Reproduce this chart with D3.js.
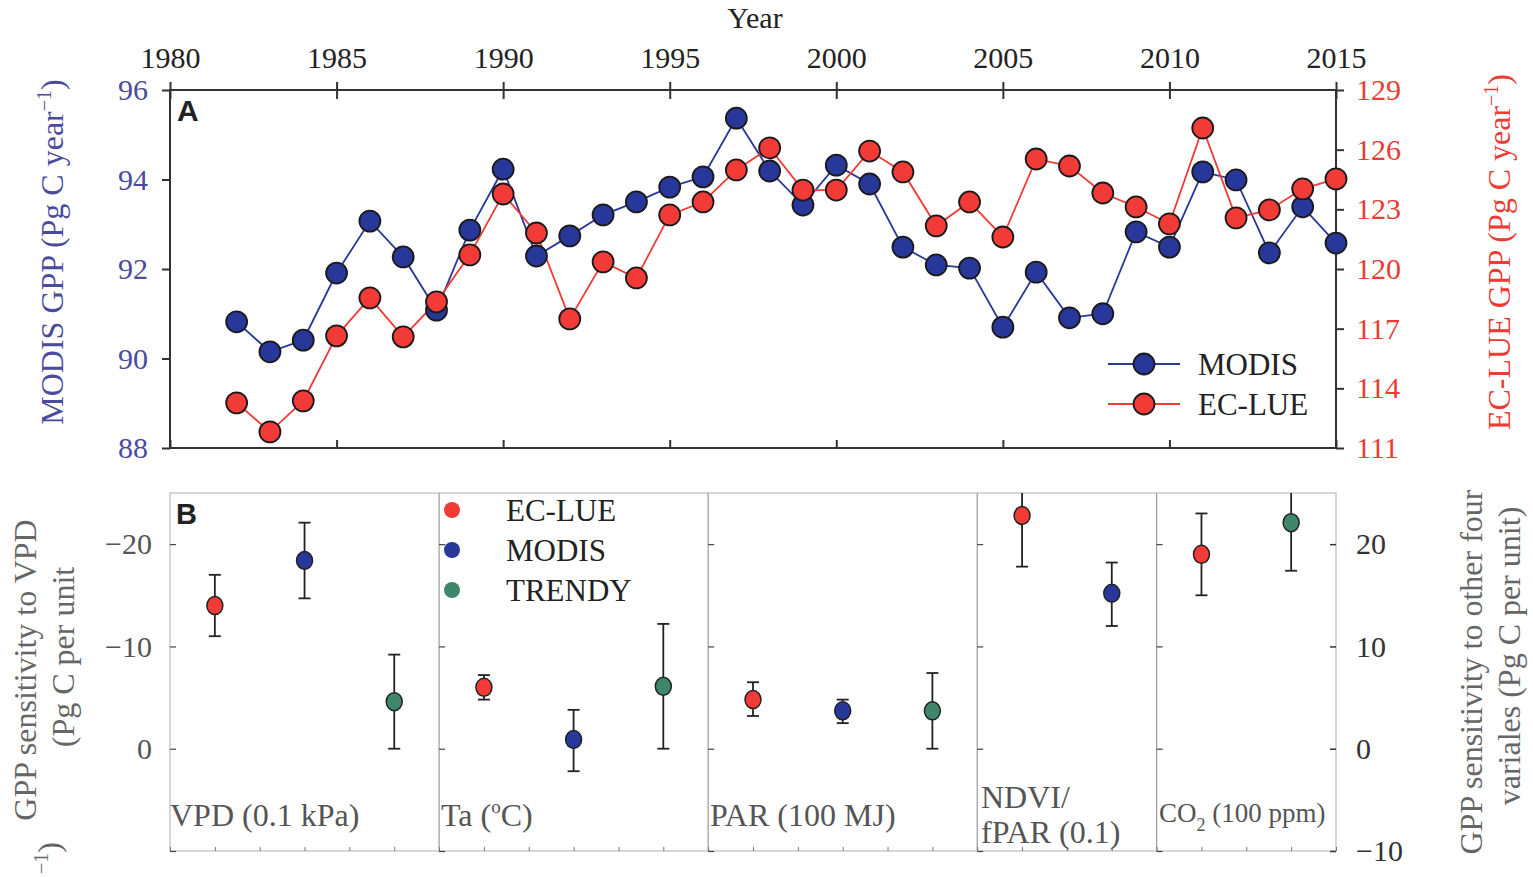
<!DOCTYPE html>
<html>
<head>
<meta charset="utf-8">
<script src="https://cdn.jsdelivr.net/npm/d3@7"></script>
<style>
  body { margin: 0; background: #fff; }
  text { font-family: "Liberation Serif", "DejaVu Serif", serif; }
  text.panel { font-family: "Liberation Sans", Arial, sans-serif; font-weight: bold; }
</style>
</head>
<body>
<div id="chart"></div>
<script>

// ---- panel A data ----
let years = d3.range(1982, 2016);
let modisGpp = [90.82, 90.15, 90.41, 91.91, 93.07, 92.27, 91.08, 92.87, 94.23, 92.29,
	92.74, 93.21, 93.50, 93.83, 94.06, 95.37, 94.19, 93.43, 94.32, 93.90,
	92.49, 92.09, 92.02, 90.70, 91.93, 90.91, 91.00, 92.83, 92.49, 94.17,
	93.99, 92.36, 93.39, 92.58];
let eclueGpp = [113.27, 111.81, 113.37, 116.64, 118.55, 116.59, 118.35, 120.71, 123.77, 121.81,
	117.49, 120.36, 119.55, 122.72, 123.37, 124.98, 126.09, 123.97, 123.97, 125.93,
	124.88, 122.17, 123.37, 121.61, 125.53, 125.18, 123.82, 123.12, 122.27, 127.09,
	122.57, 122.97, 124.03, 124.53];
let yearTicks = [1980, 1985, 1990, 1995, 2000, 2005, 2010, 2015];
let leftTicksA = [88, 90, 92, 94, 96];
let rightTicksA = [111, 114, 117, 120, 123, 126, 129];

// ---- panel B data ----
let groups = ["VPD", "Ta", "PAR", "NDVI", "CO2"];
// slot = position on panel B x axis (0..26); VPD is read on the left axis, the rest on the right one
let sensModel = ["EC-LUE", "MODIS", "TRENDY", "EC-LUE", "MODIS", "TRENDY", "EC-LUE", "MODIS", "TRENDY", "EC-LUE", "MODIS", "EC-LUE", "TRENDY"];
let sensGroup = ["VPD", "VPD", "VPD", "Ta", "Ta", "Ta", "PAR", "PAR", "PAR", "NDVI", "NDVI", "CO2", "CO2"];
let sensSlot = [1, 3, 5, 7, 9, 11, 13, 15, 17, 19, 21, 23, 25];
let sensValue = [-14.0, -18.4, -4.6, 6.0, 0.9, 6.1, 4.8, 3.7, 3.7, 22.8, 15.2, 19.0, 22.1];
let sensLow = [-11.0, -14.7, 0.0, 4.8, -2.2, 0.0, 3.2, 2.5, 0.0, 17.8, 12.0, 15.0, 17.4];
let sensHigh = [-17.0, -22.1, -9.2, 7.2, 3.8, 12.2, 6.5, 4.8, 7.4, 27.8, 18.2, 23.0, 26.8];
let dividers = [6, 12, 18, 22];
let leftTicksB = [-20, -10, 0];
let rightTicksB = [-10, 0, 10, 20];

let colors = { "MODIS": "#27379a", "EC-LUE": "#f23a36", "TRENDY": "#3f876b" };

let width = 1533, height = 877;
let svg = d3.select("#chart").append("svg")
	.attr("width", width)
	.attr("height", height);

let left = 170, right = 1336;
let tickFont = 30, labelFont = 32;

// ================= Panel A =================
let topA = 90, bottomA = 448;
let xYear = d3.scaleLinear().domain([1980, 2015]).range([left, right]);
let yModis = d3.scaleLinear().domain([88, 96]).range([bottomA, topA]);
let yEclue = d3.scaleLinear().domain([111, 129]).range([bottomA, topA]);

let dark = "#333";

// frame
svg.append("rect")
	.attr("x", left).attr("y", topA)
	.attr("width", right - left).attr("height", bottomA - topA)
	.attr("fill", "none").attr("stroke", dark).attr("stroke-width", 2);

// top axis
let topAxis = svg.append("g")
	.attr("transform", `translate(0, ${topA})`)
	.call(d3.axisTop(xYear).tickValues(yearTicks).tickFormat(d3.format("d")).tickSize(8).tickPadding(14));
topAxis.select(".domain").remove();
topAxis.selectAll("line").attr("stroke", dark).attr("stroke-width", 2).attr("y2", -8).attr("y1", 9);
topAxis.selectAll("text").attr("font-size", tickFont).attr("fill", "#222").attr("font-family", null);

// bottom inner ticks
let botAxis = svg.append("g")
	.attr("transform", `translate(0, ${bottomA})`)
	.call(d3.axisBottom(xYear).tickValues(yearTicks).tickSize(-8).tickFormat(""));
botAxis.select(".domain").remove();
botAxis.selectAll("line").attr("stroke", dark).attr("stroke-width", 2);

svg.append("text")
	.attr("x", (left + right) / 2 + 2).attr("y", 28)
	.attr("text-anchor", "middle")
	.attr("font-size", 30).attr("fill", "#222")
	.text("Year");

// left axis
let lAxis = svg.append("g")
	.attr("transform", `translate(${left}, 0)`)
	.call(d3.axisLeft(yModis).tickValues(leftTicksA).tickSize(8).tickPadding(14));
lAxis.select(".domain").remove();
lAxis.selectAll("line").attr("stroke", dark).attr("stroke-width", 2);
lAxis.selectAll("text").attr("font-size", tickFont).attr("fill", "#4b4b9e").attr("font-family", null);

// right axis
let rAxis = svg.append("g")
	.attr("transform", `translate(${right}, 0)`)
	.call(d3.axisRight(yEclue).tickValues(rightTicksA).tickSize(8).tickPadding(12));
rAxis.select(".domain").remove();
rAxis.selectAll("line").attr("stroke", dark).attr("stroke-width", 2);
rAxis.selectAll("text").attr("font-size", tickFont).attr("fill", "#ec3b33").attr("font-family", null);

// axis titles (both read bottom to top)
let lt = svg.append("text")
	.attr("transform", `translate(63, 252) rotate(-90)`)
	.attr("text-anchor", "middle")
	.attr("font-size", labelFont).attr("fill", "#4b4b9e");
lt.append("tspan").text("MODIS GPP (Pg C year");
lt.append("tspan").attr("font-size", 20).attr("dy", -12).text("\u22121");
lt.append("tspan").attr("dy", 12).text(")");

let rt = svg.append("text")
	.attr("transform", `translate(1510, 252) rotate(-90)`)
	.attr("text-anchor", "middle")
	.attr("font-size", labelFont).attr("fill", "#ec3b33");
rt.append("tspan").text("EC-LUE GPP (Pg C year");
rt.append("tspan").attr("font-size", 20).attr("dy", -12).text("\u22121");
rt.append("tspan").attr("dy", 12).text(")");

// lines + markers
let modisPts = years.map((y, i) => [y, modisGpp[i]]);
let ecluePts = years.map((y, i) => [y, eclueGpp[i]]);

svg.append("path")
	.datum(modisPts)
	.attr("d", d3.line().x(d => xYear(d[0])).y(d => yModis(d[1])))
	.attr("fill", "none").attr("stroke", colors["MODIS"]).attr("stroke-width", 1.8);
svg.append("path")
	.datum(ecluePts)
	.attr("d", d3.line().x(d => xYear(d[0])).y(d => yEclue(d[1])))
	.attr("fill", "none").attr("stroke", colors["EC-LUE"]).attr("stroke-width", 1.8);

svg.append("g").selectAll("circle").data(modisPts).join("circle")
	.attr("cx", d => xYear(d[0])).attr("cy", d => yModis(d[1])).attr("r", 10.5)
	.attr("fill", colors["MODIS"]).attr("stroke", "#1a1a1a").attr("stroke-width", 1.8);
svg.append("g").selectAll("circle").data(ecluePts).join("circle")
	.attr("cx", d => xYear(d[0])).attr("cy", d => yEclue(d[1])).attr("r", 10.5)
	.attr("fill", colors["EC-LUE"]).attr("stroke", "#1a1a1a").attr("stroke-width", 1.8);

svg.append("text")
	.attr("class", "panel")
	.attr("x", 177).attr("y", 121)
	.attr("font-size", 30).attr("fill", "#222")
	.text("A");

// legend A
[["MODIS", 364], ["EC-LUE", 404]].forEach(([name, ly]) => {
	svg.append("line")
		.attr("x1", 1108).attr("x2", 1180).attr("y1", ly).attr("y2", ly)
		.attr("stroke", colors[name]).attr("stroke-width", 1.8);
	svg.append("circle")
		.attr("cx", 1144).attr("cy", ly).attr("r", 10.5)
		.attr("fill", colors[name]).attr("stroke", "#1a1a1a").attr("stroke-width", 1.8);
	svg.append("text")
		.attr("x", 1198).attr("y", ly + 11)
		.attr("font-size", 31).attr("fill", "#222")
		.text(name);
});

// ================= Panel B =================
let topB = 493, bottomB = 851;
let xSlot = d3.scaleLinear().domain([0, 26]).range([left, right]);
let yLeftB = d3.scaleLinear().domain([-25, 10]).range([topB, bottomB]);
let yRightB = d3.scaleLinear().domain([-10, 25]).range([bottomB, topB]);
let gray = "#bdbdbd", tickCol = "#555";

svg.append("defs").append("clipPath").attr("id", "clipB")
	.append("rect").attr("x", left).attr("y", topB).attr("width", right - left).attr("height", bottomB - topB);

svg.append("rect")
	.attr("x", left).attr("y", topB)
	.attr("width", right - left).attr("height", bottomB - topB)
	.attr("fill", "none").attr("stroke", gray).attr("stroke-width", 1.2);

svg.append("g").selectAll("line").data(dividers).join("line")
	.attr("x1", d => xSlot(d)).attr("x2", d => xSlot(d))
	.attr("y1", topB).attr("y2", bottomB)
	.attr("stroke", "#9a9a9a").attr("stroke-width", 1.2);

// small bottom ticks at each slot
let bAxis = svg.append("g")
	.attr("transform", `translate(0, ${bottomB})`)
	.call(d3.axisBottom(xSlot).tickValues(d3.range(0, 27)).tickSize(-4).tickFormat(""));
bAxis.select(".domain").remove();
bAxis.selectAll("line").attr("stroke", "#777").attr("stroke-width", 1);

// inner left ticks in each sub panel
[0].concat(dividers).forEach(s => {
	let g = svg.append("g")
		.attr("transform", `translate(${xSlot(s)}, 0)`)
		.call(d3.axisRight(yRightB).tickValues(rightTicksB).tickSize(6).tickFormat(""));
	g.select(".domain").remove();
	g.selectAll("line").attr("stroke", "#444").attr("stroke-width", 1.2);
});

// left axis B
let lbAxis = svg.append("g")
	.attr("transform", `translate(${left}, 0)`)
	.call(d3.axisLeft(yLeftB).tickValues(leftTicksB).tickSize(0).tickPadding(18)
		.tickFormat(d => d < 0 ? "\u2212" + Math.abs(d) : d));
lbAxis.select(".domain").remove();
lbAxis.selectAll("text").attr("font-size", tickFont).attr("fill", tickCol).attr("font-family", null);

// right axis B
let rbAxis = svg.append("g")
	.attr("transform", `translate(${right}, 0)`)
	.call(d3.axisRight(yRightB).tickValues(rightTicksB).tickSize(-6).tickPadding(20)
		.tickFormat(d => d < 0 ? "\u2212" + Math.abs(d) : d));
rbAxis.select(".domain").remove();
rbAxis.selectAll("line").attr("stroke", "#333").attr("stroke-width", 1.5);
rbAxis.selectAll("text").attr("font-size", tickFont).attr("fill", "#333").attr("font-family", null);

// axis titles B
svg.append("text")
	.attr("transform", `translate(36, 670) rotate(-90)`)
	.attr("text-anchor", "middle")
	.attr("font-size", labelFont).attr("fill", "#666")
	.text("GPP sensitivity to VPD");
svg.append("text")
	.attr("transform", `translate(74, 657) rotate(-90)`)
	.attr("text-anchor", "middle")
	.attr("font-size", labelFont).attr("fill", "#666")
	.text("(Pg C per unit");
let sup = svg.append("text")
	.attr("transform", `translate(60, 874) rotate(-90)`)
	.attr("text-anchor", "start")
	.attr("font-size", labelFont).attr("fill", "#666");
sup.append("tspan").attr("font-size", 20).attr("dy", -12).text("\u22121");
sup.append("tspan").attr("dy", 12).text(")");

svg.append("text")
	.attr("transform", `translate(1482, 672) rotate(-90)`)
	.attr("text-anchor", "middle")
	.attr("font-size", labelFont).attr("fill", "#666")
	.text("GPP sensitivity to other four");
svg.append("text")
	.attr("transform", `translate(1520, 656) rotate(-90)`)
	.attr("text-anchor", "middle")
	.attr("font-size", labelFont).attr("fill", "#666")
	.text("variales (Pg C per unit)");

// group labels
let lblCol = "#555";
svg.append("text").attr("x", 170).attr("y", 826).attr("font-size", labelFont).attr("fill", lblCol).text("VPD (0.1 kPa)");
let ta = svg.append("text").attr("x", 441).attr("y", 826).attr("font-size", labelFont).attr("fill", lblCol);
ta.append("tspan").text("Ta (");
ta.append("tspan").attr("font-size", 19).attr("dy", -13).text("o");
ta.append("tspan").attr("dy", 13).text("C)");
svg.append("text").attr("x", 710).attr("y", 826).attr("font-size", labelFont).attr("fill", lblCol).text("PAR (100 MJ)");
svg.append("text").attr("x", 981).attr("y", 808).attr("font-size", labelFont).attr("fill", lblCol).text("NDVI/");
svg.append("text").attr("x", 981).attr("y", 843).attr("font-size", labelFont).attr("fill", lblCol).text("fPAR (0.1)");
let co = svg.append("text").attr("x", 1159).attr("y", 822).attr("font-size", 27).attr("fill", lblCol);
co.append("tspan").text("CO");
co.append("tspan").attr("font-size", 18).attr("dy", 9).text("2");
co.append("tspan").attr("dy", -9).text(" (100 ppm)");

// error bars + points
let sens = sensValue.map((v, i) => ({
	model: sensModel[i], group: sensGroup[i], slot: sensSlot[i],
	value: v, low: sensLow[i], high: sensHigh[i],
	y: sensGroup[i] === "VPD" ? yLeftB : yRightB
}));

let eb = svg.append("g").attr("clip-path", "url(#clipB)");
eb.selectAll("line.whisker").data(sens).join("line")
	.attr("class", "whisker")
	.attr("x1", d => xSlot(d.slot)).attr("x2", d => xSlot(d.slot))
	.attr("y1", d => d.y(d.low)).attr("y2", d => d.y(d.high))
	.attr("stroke", "#222").attr("stroke-width", 1.8);
["low", "high"].forEach(k => {
	eb.selectAll("line.cap-" + k).data(sens).join("line")
		.attr("class", "cap-" + k)
		.attr("x1", d => xSlot(d.slot) - 6).attr("x2", d => xSlot(d.slot) + 6)
		.attr("y1", d => d.y(d[k])).attr("y2", d => d.y(d[k]))
		.attr("stroke", "#222").attr("stroke-width", 1.8);
});
svg.append("g").selectAll("ellipse").data(sens).join("ellipse")
	.attr("cx", d => xSlot(d.slot)).attr("cy", d => d.y(d.value))
	.attr("rx", 8).attr("ry", 9)
	.attr("fill", d => colors[d.model]).attr("stroke", "#222").attr("stroke-width", 1.5);

svg.append("text")
	.attr("class", "panel")
	.attr("x", 176).attr("y", 524)
	.attr("font-size", 29).attr("fill", "#222")
	.text("B");

// legend B
["EC-LUE", "MODIS", "TRENDY"].forEach((name, i) => {
	let ly = 510 + i * 40;
	svg.append("circle")
		.attr("cx", 452).attr("cy", ly).attr("r", 8)
		.attr("fill", colors[name]);
	svg.append("text")
		.attr("x", 506).attr("y", ly + 11)
		.attr("font-size", 31).attr("fill", "#222")
		.text(name);
});

</script>
</body>
</html>
